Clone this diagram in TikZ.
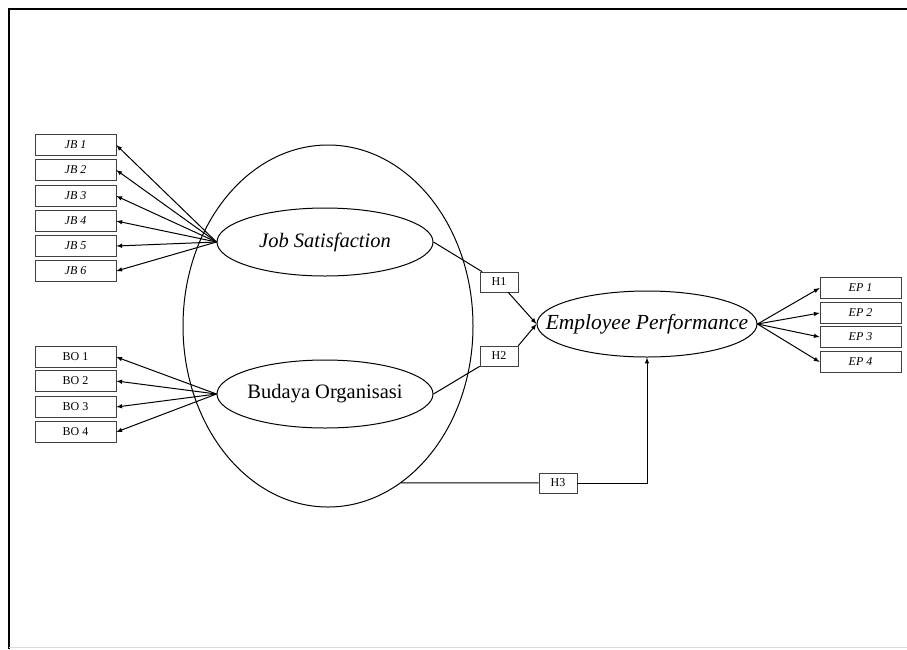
\documentclass[tikz,border=0pt]{standalone}
\usepackage{fontspec}
\setmainfont{Liberation Serif}
\usetikzlibrary{shapes.geometric}

\begin{document}
\begin{tikzpicture}
[every node/.style={inner sep=0pt}, >=latex,
 ind/.style={rectangle, minimum width=81pt, minimum height=21pt, line width=0.6pt, draw=black!75, font=\fontsize{12}{14}\selectfont},
 lat/.style={ellipse, line width=1pt, draw=black},
 latfont/.style={font=\fontsize{20.5}{24}\selectfont},
 hyp/.style={rectangle, minimum width=38pt, minimum height=20pt, line width=0.6pt, draw=black!75, font=\fontsize{12}{14}\selectfont},
 link/.style={line width=1pt, color=black}]
\useasboundingbox (0pt, 0pt) rectangle (907pt, -649pt);
% frame
\draw [line width=2.5pt, color=black] (907pt, -9pt) -- (9pt, -9pt) -- (9pt, -649pt);
\draw [line width=1pt, color=black!15] (9pt, -647pt) -- (907pt, -647pt);
% latent variables
\node (outer) [lat, minimum width=290pt, minimum height=362pt] at (328pt, -326pt) {};
\node (js) [lat, minimum width=216pt, minimum height=68pt, label={[latfont]center:\textit{Job Satisfaction}}] at (325pt, -242pt) {};
\node (bo) [lat, minimum width=216pt, minimum height=68pt, label={[latfont]center:Budaya Organisasi}] at (325pt, -394pt) {};
\node (ep) [lat, minimum width=220pt, minimum height=66pt, label={[font=\fontsize{21.5}{24}\selectfont]center:\textit{Employee Performance}}] at (647pt, -324pt) {};
% indicators
\node (jb1) [ind] at (75.5pt, -145pt) {\textit{JB 1}};
\node (jb2) [ind] at (75.5pt, -170pt) {\textit{JB 2}};
\node (jb3) [ind] at (75.5pt, -196pt) {\textit{JB 3}};
\node (jb4) [ind] at (75.5pt, -221pt) {\textit{JB 4}};
\node (jb5) [ind] at (75.5pt, -246pt) {\textit{JB 5}};
\node (jb6) [ind] at (75.5pt, -271pt) {\textit{JB 6}};
\node (bo1) [ind] at (75.5pt, -357pt) {BO 1};
\node (bo2) [ind] at (75.5pt, -381pt) {BO 2};
\node (bo3) [ind] at (75.5pt, -407pt) {BO 3};
\node (bo4) [ind] at (75.5pt, -432pt) {BO 4};
\node (ep1) [ind] at (860.5pt, -288pt) {\textit{EP 1}};
\node (ep2) [ind] at (860.5pt, -313pt) {\textit{EP 2}};
\node (ep3) [ind] at (860.5pt, -337pt) {\textit{EP 3}};
\node (ep4) [ind] at (860.5pt, -362pt) {\textit{EP 4}};
% hypotheses
\node (h1) [hyp] at (499pt, -282pt) {H1};
\node (h2) [hyp] at (499pt, -356pt) {H2};
\node (h3) [hyp] at (558pt, -483pt) {H3};
% loadings
\draw [link, ->] (js.west) to (jb1.east);
\draw [link, ->] (js.west) to (jb2.east);
\draw [link, ->] (js.west) to (jb3.east);
\draw [link, ->] (js.west) to (jb4.east);
\draw [link, ->] (js.west) to (jb5.east);
\draw [link, ->] (js.west) to (jb6.east);
\draw [link, ->] (bo.west) to (bo1.east);
\draw [link, ->] (bo.west) to (bo2.east);
\draw [link, ->] (bo.west) to (bo3.east);
\draw [link, ->] (bo.west) to (bo4.east);
\draw [link, ->] (ep.east) to (ep1.west);
\draw [link, ->] (ep.east) to (ep2.west);
\draw [link, ->] (ep.east) to (ep3.west);
\draw [link, ->] (ep.east) to (ep4.west);
% paths
\draw [link] (js.east) to (h1);
\draw [link, ->] (h1) to (ep.west);
\draw [link] (bo.east) to (h2.south west);
\draw [link, ->] (h2.north east) to (ep.west);
\draw [link] (outer.-65) -- (h3);
\draw [link, ->] (h3) -| (ep.south);
\end{tikzpicture}
\end{document}
